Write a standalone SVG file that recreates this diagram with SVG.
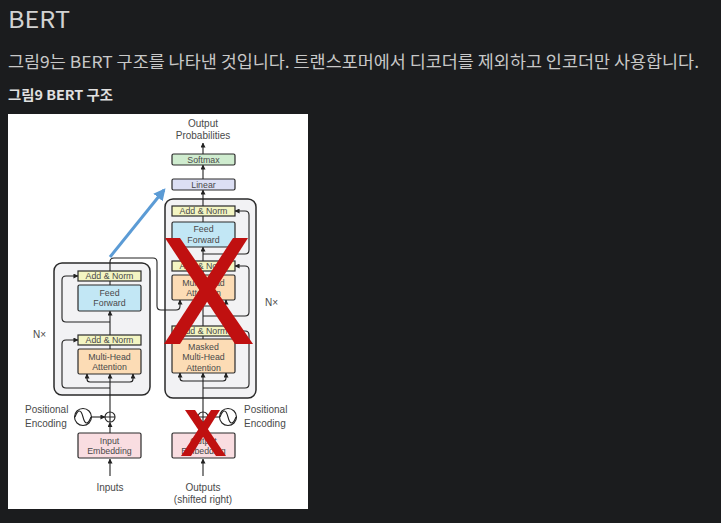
<svg xmlns="http://www.w3.org/2000/svg" width="721" height="523" viewBox="0 0 721 523">
<defs>
<marker id="ah" viewBox="0 0 6 6" refX="5.5" refY="3" markerWidth="5" markerHeight="5" orient="auto" markerUnits="userSpaceOnUse"><path d="M0,0 L6,3 L0,6 Z" fill="#222"/></marker>
<marker id="bh" viewBox="0 0 10 10" refX="8" refY="5" markerWidth="12" markerHeight="12" orient="auto" markerUnits="userSpaceOnUse"><path d="M0,0 L10,5 L0,10 Z" fill="#5b9bd5"/></marker>
<style>
.page{font-family:"Noto Sans CJK KR","Noto Sans",sans-serif}
.t{font-family:"Liberation Sans",Arial,sans-serif;font-size:8.8px;fill:#4a4a4a;text-anchor:middle}
.lb{font-family:"Liberation Sans",Arial,sans-serif;font-size:10px;fill:#4a4a4a}
.box{stroke:#2a2a2a;stroke-width:1.2}
.an{fill:#f3f5c2}
.ff{fill:#c2e7f5}
.mha{fill:#fcdcb5}
.emb{fill:#f9dde1}
.blk{fill:#f2f2f4;stroke:#2a2a2a;stroke-width:1.5}
.ln{fill:none;stroke:#222;stroke-width:1.1}
.ar{fill:none;stroke:#222;stroke-width:1.1;marker-end:url(#ah)}
.rx{fill:#c01010}
</style>
</defs>
<rect width="721" height="523" fill="#1b1c1e"/>
<text class="page" x="8" y="28" font-size="23.5" fill="#d2d2d2" textLength="62" lengthAdjust="spacingAndGlyphs">BERT</text>
<text class="page" x="8" y="68" font-size="16.5" fill="#c8c8c8" textLength="691" lengthAdjust="spacingAndGlyphs">그림9는 BERT 구조를 나타낸 것입니다. 트랜스포머에서 디코더를 제외하고 인코더만 사용합니다.</text>
<text class="page" x="8" y="100" font-size="13.5" font-weight="bold" fill="#e0e0e0" textLength="105" lengthAdjust="spacingAndGlyphs">그림9 BERT 구조</text>
<rect x="8" y="114" width="300" height="395" fill="#ffffff"/>

<g id="encoder-block"><rect class="blk" x="54" y="263" width="96" height="132" rx="8"/></g>
<g id="decoder-block"><rect class="blk" x="165" y="199" width="91" height="199" rx="8"/></g>

<g id="connectors">
<path class="ar" d="M110 476 V459"/>
<path class="ar" d="M110 433 V422.5"/>
<path class="ar" d="M110 412 V374"/>
<path class="ln" d="M110 349 V345"/>
<path class="ar" d="M110 335 V311"/>
<path class="ln" d="M110 285 V281"/>
<path class="ln" d="M87 374 V379 Q87 382 90 382 H130 Q133 382 133 379 V374"/>
<path class="ar" d="M87 378 V374"/><path class="ar" d="M133 378 V374"/>
<path class="ar" d="M110 388 H66 Q62 388 62 384 V344 Q62 340 66 340 H78"/>
<path class="ar" d="M110 322 H66 Q62 322 62 318 V280 Q62 276 66 276 H78"/>
<path class="ln" d="M110 271 V262 Q110 258 114 258 H153 Q157 258 157 262 V306 Q157 310 161 310 H176 Q180 310 180 306 V300"/>
<path class="ar" d="M180 304 V300"/>
<path class="ar" d="M91 417 H105"/>

<path class="ar" d="M203 476 V459"/>
<path class="ar" d="M203 433 V422.5"/>
<path class="ar" d="M203 412 V373"/>
<path class="ln" d="M203 339 V336"/>
<path class="ar" d="M203 326 V300"/>
<path class="ln" d="M203 306 H222 Q226 306 226 302 V300"/>
<path class="ar" d="M226 304 V300"/>
<path class="ln" d="M203 275 V271"/>
<path class="ar" d="M203 261 V247"/>
<path class="ln" d="M203 222 V216"/>
<path class="ar" d="M203 206 V190"/>
<path class="ar" d="M203 179 V165"/>
<path class="ar" d="M203 154 V143"/>
<path class="ln" d="M180 373 V378 Q180 381 183 381 H223 Q226 381 226 378 V373"/>
<path class="ar" d="M180 377 V373"/><path class="ar" d="M226 377 V373"/>
<path class="ar" d="M203 388 H245 Q249 388 249 384 V335 Q249 331 245 331 H235"/>
<path class="ar" d="M203 316 H245 Q249 316 249 312 V270 Q249 266 245 266 H235"/>
<path class="ar" d="M203 254 H245 Q249 254 249 250 V215 Q249 211 245 211 H235"/>
<path class="ar" d="M220 417 H208"/>
<path d="M110 257 L164 190" fill="none" stroke="#5b9bd5" stroke-width="3" marker-end="url(#bh)"/>
</g>

<g id="enc-addnorm2"><rect class="box an" x="78" y="271" width="63" height="10"/><text class="t" x="109.5" y="279.4">Add &amp; Norm</text></g>
<g id="enc-ff"><rect class="box ff" x="78" y="285" width="63" height="26" rx="1.5"/><text class="t" x="109.5" y="295.5">Feed</text><text class="t" x="109.5" y="306">Forward</text></g>
<g id="enc-addnorm1"><rect class="box an" x="78" y="335" width="63" height="10"/><text class="t" x="109.5" y="343.4">Add &amp; Norm</text></g>
<g id="enc-mha"><rect class="box mha" x="78" y="349" width="63" height="25" rx="1.5"/><text class="t" x="109.5" y="359.5">Multi-Head</text><text class="t" x="109.5" y="370">Attention</text></g>
<g id="enc-emb"><rect class="box emb" x="78" y="433" width="63" height="25" rx="1.5"/><text class="t" x="109.5" y="443.5">Input</text><text class="t" x="109.5" y="454">Embedding</text></g>
<g id="enc-plus"><circle cx="110" cy="417" r="5" fill="#fff" stroke="#222" stroke-width="1.1"/><path class="ln" d="M105 417 H115 M110 412 V422"/></g>
<g id="enc-pe"><circle cx="83" cy="417" r="8.5" fill="#fff" stroke="#222" stroke-width="1.1"/><path class="ln" d="M75 417 C78 409 81 409 83 417 C85 425 88 425 91 417"/></g>
<g id="enc-labels"><text class="lb" x="25" y="413">Positional</text><text class="lb" x="25" y="427">Encoding</text><text class="lb" x="110" y="491" text-anchor="middle">Inputs</text><text class="lb" x="33" y="338">N×</text></g>

<g id="dec-addnorm3"><rect class="box an" x="172" y="206" width="63" height="10"/><text class="t" x="203.5" y="214.4">Add &amp; Norm</text></g>
<g id="dec-ff"><rect class="box ff" x="172" y="222" width="63" height="25" rx="1.5"/><text class="t" x="203.5" y="232">Feed</text><text class="t" x="203.5" y="242.5">Forward</text></g>
<g id="dec-addnorm2"><rect class="box an" x="172" y="261" width="63" height="10"/><text class="t" x="203.5" y="269.4">Add &amp; Norm</text></g>
<g id="dec-mha"><rect class="box mha" x="172" y="275" width="63" height="25" rx="1.5"/><text class="t" x="203.5" y="285.5">Multi-Head</text><text class="t" x="203.5" y="296">Attention</text></g>
<g id="dec-addnorm1"><rect class="box an" x="172" y="326" width="63" height="10"/><text class="t" x="203.5" y="334.4">Add &amp; Norm</text></g>
<g id="dec-masked"><rect class="box mha" x="172" y="339" width="63" height="34" rx="1.5"/><text class="t" x="203.5" y="349.5">Masked</text><text class="t" x="203.5" y="360">Multi-Head</text><text class="t" x="203.5" y="370.5">Attention</text></g>
<g id="dec-emb"><rect class="box emb" x="172" y="433" width="63" height="25" rx="1.5"/><text class="t" x="203.5" y="443.5">Output</text><text class="t" x="203.5" y="454">Embedding</text></g>
<g id="dec-plus"><circle cx="203" cy="417" r="5" fill="#fff" stroke="#222" stroke-width="1.1"/><path class="ln" d="M198 417 H208 M203 412 V422"/></g>
<g id="dec-pe"><circle cx="228" cy="417" r="8.5" fill="#fff" stroke="#222" stroke-width="1.1"/><path class="ln" d="M220 417 C223 409 226 409 228 417 C230 425 233 425 236 417"/></g>
<g id="linear"><rect class="box" x="172" y="179" width="63" height="11" rx="1.5" fill="#dcdff4"/><text class="t" x="203.5" y="187.8">Linear</text></g>
<g id="softmax"><rect class="box" x="172" y="154" width="63" height="11" rx="1.5" fill="#cfeccf"/><text class="t" x="203.5" y="162.8">Softmax</text></g>
<g id="dec-labels"><text class="lb" x="244" y="413">Positional</text><text class="lb" x="244" y="427">Encoding</text><text class="lb" x="203" y="491" text-anchor="middle">Outputs</text><text class="lb" x="203" y="503" text-anchor="middle">(shifted right)</text><text class="lb" x="265" y="306">N×</text><text class="lb" x="203" y="127" text-anchor="middle">Output</text><text class="lb" x="203" y="139" text-anchor="middle">Probabilities</text></g>

<g id="red-x-big"><polygon class="rx" points="165,238 180,238 253,344 235,344"/><polygon class="rx" points="233,238 248,238 180,344 164,344"/></g>
<g id="red-x-small"><polygon class="rx" points="185,410 195,410 226,456 216,456"/><polygon class="rx" points="211,410 220,410 191,456 181,456"/></g>
</svg>
